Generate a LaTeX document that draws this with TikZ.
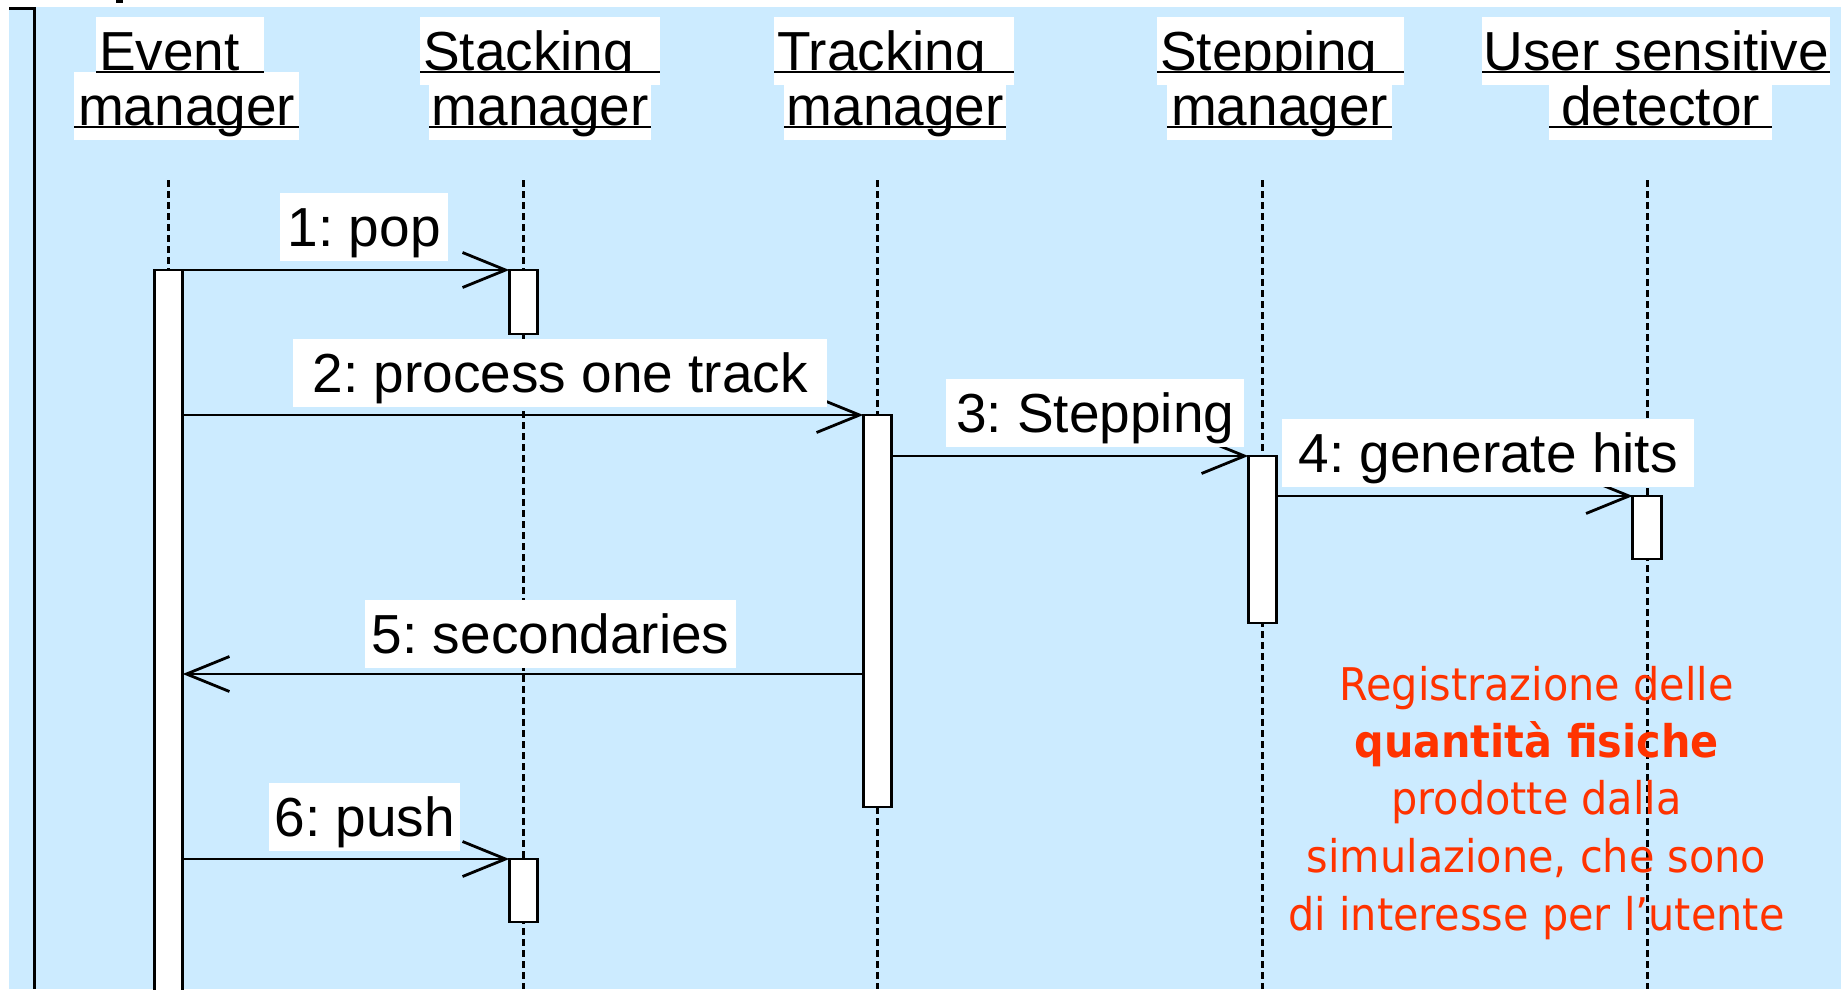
\documentclass[tikz,border=0pt]{standalone}
\usepackage{fontspec}
\setmainfont{Liberation Sans}
\newfontfamily\notefont[FakeStretch=0.92]{DejaVu Sans}
\usetikzlibrary{arrows.meta}
\definecolor{panelblue}{RGB}{204,235,255}
\definecolor{notered}{RGB}{255,51,0}
\frenchspacing
% fixed-width text line: width, alignment (l/c), text
\newcommand{\fixline}[3]{\makebox[#1][#2]{\hspace*{3pt}#3\hspace*{3pt}}}

\begin{document}
\begin{tikzpicture}[x=1pt,y=-1pt,
  lbl/.style={fill=white, inner xsep=0pt, inner ysep=1pt, text height=52pt,
    text depth=14pt, anchor=north west,
    font=\fontsize{55}{60}\selectfont},
  act/.style={draw, fill=white, line width=2.8pt, minimum width=28.5pt,
    inner sep=0pt, outer sep=0pt, anchor=north},
  lifeline/.style={line width=3pt, dash pattern=on 7pt off 4pt},
  msg/.style={line width=2.8pt, -{Straight Barb[length=43pt,width=35pt]}},
  uline/.style={line width=2.2pt},
  note/.style={text=notered, inner sep=0pt, anchor=base,
    font=\notefont\fontsize{45}{55}\selectfont}]

\useasboundingbox (0,0) rectangle (1841,989);

% panel and frame
\fill[panelblue] (9,7) rectangle (1841,989);
\draw[line width=3pt] (9,8.5) -- (34,8.5) -- (34,989);
\fill (116,0) rectangle (123,3);

% lifelines
\foreach \nm/\x in {ev/168.5, sk/523.5, tr/877.5, st/1262.5, us/1647} {
  \coordinate (\nm-top) at (\x,180);
  \coordinate (\nm-end) at (\x,989);
  \draw[lifeline] (\nm-top) -- (\nm-end);
}

% activation bars
\node[act, minimum height=735pt] (evbar) at (168.5,270) {};
\node[act, minimum height=64pt]  (skbarA) at (523.5,270) {};
\node[act, minimum height=392pt] (trbar) at (877.5,415) {};
\node[act, minimum height=167pt] (stbar) at (1262.5,456) {};
\node[act, minimum height=63pt]  (usbar) at (1647,496) {};
\node[act, minimum height=63pt]  (skbarB) at (523.5,859) {};

% messages
\coordinate (ret) at (0,674);
\draw[msg] (evbar.east |- skbarA.north) -- (skbarA.north west);
\draw[msg] (evbar.east |- trbar.north) -- (trbar.north west);
\draw[msg] (trbar.east |- stbar.north) -- (stbar.north west);
\draw[msg] (stbar.east |- usbar.north) -- (usbar.north west);
\draw[msg] (trbar.west |- ret) -- (evbar.east |- ret);
\draw[msg] (evbar.east |- skbarB.north) -- (skbarB.north west);

% message labels
\node[lbl] (m1) at (280,193) {\fixline{168pt}{c}{1: pop}};
\node[lbl] (m2) at (293,339) {\fixline{534pt}{c}{2: process one track}};
\node[lbl] (m3) at (946,379) {\fixline{298pt}{c}{3: Stepping}};
\node[lbl] (m4) at (1282,419) {\fixline{412pt}{c}{4: generate hits}};
\node[lbl] (m5) at (365,600) {\fixline{371pt}{c}{5: secondaries}};
\node[lbl] (m6) at (269,783) {\fixline{191pt}{c}{6: push}};

% object headers
\node[lbl] (evA) at (96,17)   {\fixline{168pt}{l}{Event}};
\node[lbl] (evB) at (74,72)   {\fixline{225pt}{c}{manager}};
\node[lbl] (skA) at (420,17)  {\fixline{240pt}{l}{Stacking}};
\node[lbl] (skB) at (429,72)  {\fixline{222pt}{c}{manager}};
\node[lbl] (trA) at (774,17)  {\fixline{240pt}{l}{Tracking}};
\node[lbl] (trB) at (784,72)  {\fixline{222pt}{c}{manager}};
\node[lbl] (stA) at (1157,17) {\fixline{247pt}{l}{Stepping}};
\node[lbl] (stB) at (1167,72) {\fixline{225pt}{c}{manager}};
\node[lbl] (usA) at (1482,17) {\fixline{348pt}{c}{User sensitive}};
\node[lbl] (usB) at (1549,72) {\fixline{223pt}{c}{detector}};

\foreach \h in {evA,evB,skA,skB,trA,trB,stA,stB,usA,usB}
  \draw[uline] ([yshift=-2pt]\h.base west) -- ([yshift=-2pt]\h.base east);

% note on the detector
\node[note] (n1) at (1536.5,700) {Registrazione delle};
\node[note] (n2) at (1536.5,757) {\bfseries quantità fisiche};
\node[note] (n3) at (1536.5,814) {prodotte dalla};
\node[note] (n4) at (1536.5,872) {simulazione, che sono};
\node[note] (n5) at (1536.5,930) {di interesse per l’utente};

\end{tikzpicture}
\end{document}
